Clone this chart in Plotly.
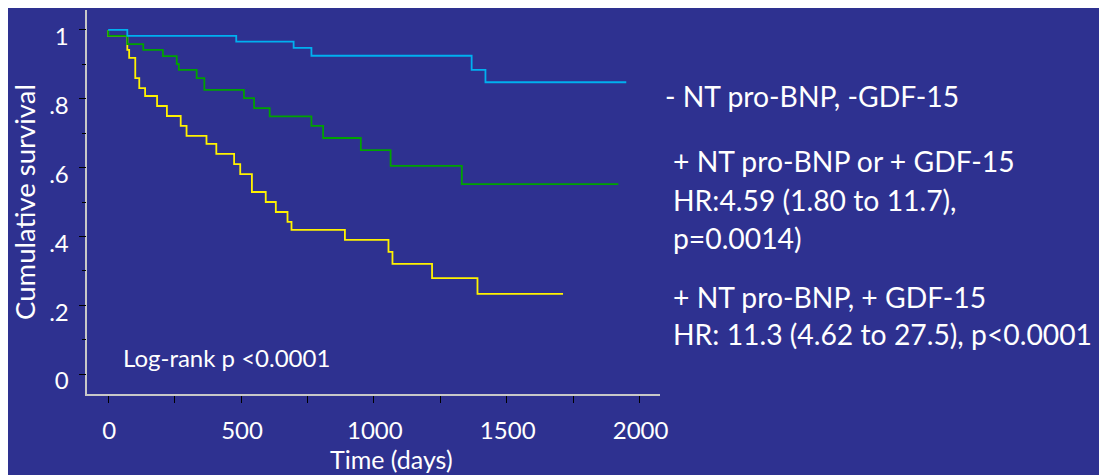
import plotly.graph_objects as go

# Data (days, cumulative survival)
blue_t = [0, 72, 482, 698, 765, 1368, 1420, 1950]
blue_s = [1.0, 0.983, 0.966, 0.948, 0.925, 0.884, 0.848, 0.848]

green_t = [0, 0, 72, 132, 206, 258, 266, 333, 362, 511, 549, 608, 765, 809, 951, 1063, 1331, 1920]
green_s = [1.0, 0.983, 0.959, 0.942, 0.924, 0.901, 0.884, 0.860, 0.826, 0.802, 0.773, 0.749,
           0.721, 0.686, 0.651, 0.605, 0.552, 0.552]

yellow_t = [0, 0, 72, 79, 102, 117, 139, 184, 221, 273, 295, 370, 407, 474, 497, 541, 593, 631,
            675, 690, 891, 1055, 1070, 1219, 1390, 1712]
yellow_s = [1.0, 0.983, 0.942, 0.919, 0.860, 0.831, 0.808, 0.779, 0.750, 0.721, 0.692, 0.669,
            0.640, 0.610, 0.581, 0.529, 0.500, 0.471, 0.442, 0.419, 0.390, 0.355, 0.320, 0.279,
            0.233, 0.233]

x_ticks = [0, 500, 1000, 1500, 2000]
y_ticks = [0, 0.2, 0.4, 0.6, 0.8, 1.0]
y_tick_text = ["0", ".2", ".4", ".6", ".8", "1"]

legend_lines = [
    ("- NT pro-BNP, -GDF-15", 668, 96),
    ("+ NT pro-BNP or + GDF-15", 676, 161),
    ("HR:4.59 (1.80 to 11.7),", 676, 200),
    ("p=0.0014)", 676, 238),
    ("+ NT pro-BNP, + GDF-15", 676, 297),
    ("HR: 11.3 (4.62 to 27.5), p<0.0001", 676, 334),
]

BG = "#2E3190"
FONT = "Lato"
OFF = 8  # page body margin
W, H = 1107 - OFF, 475 - OFF


def fx(px):
    return (px - OFF) / W


def fy(py):
    return 1 - (py - OFF) / H


fig = go.Figure()
for t, s, c in [(yellow_t, yellow_s, "#FFF200"), (green_t, green_s, "#00A300"), (blue_t, blue_s, "#00B0F0")]:
    fig.add_trace(go.Scatter(x=t, y=s, mode="lines", line=dict(color=c, width=1.8, shape="hv"),
                             showlegend=False, hoverinfo="skip"))

for txt, px, py in legend_lines:
    fig.add_annotation(text=txt, x=fx(px), y=fy(py), xref="paper", yref="paper",
                       xanchor="left", yanchor="middle", showarrow=False,
                       font=dict(family=FONT, size=28.3, color="white"))

fig.add_annotation(text="Log-rank p <0.0001", x=fx(122), y=fy(357), xref="paper", yref="paper",
                   xanchor="left", yanchor="middle", showarrow=False,
                   font=dict(family=FONT, size=24, color="white"))

fig.add_annotation(text="Time (days)", x=fx(395), y=0, xref="paper", yref="paper",
                   xanchor="center", yanchor="bottom", showarrow=False, borderpad=0,
                   font=dict(family=FONT, size=25, color="white"))

fig.update_layout(
    width=W, height=H,
    paper_bgcolor=BG, plot_bgcolor=BG,
    margin=dict(l=0, r=0, t=0, b=0),
    font=dict(family=FONT, color="white", size=24),
    xaxis=dict(domain=[fx(88), fx(665)], range=[-78.4, 2075.5], tickvals=x_ticks,
               ticks="outside", ticklen=7, tickcolor="black", tickwidth=1.2,
               showline=True, linecolor="#C8C8C8", linewidth=1.5, showgrid=False, zeroline=False,
               minor=dict(dtick=250, tick0=0, ticks="outside", ticklen=7, tickcolor="black", tickwidth=1.2),
               tickfont=dict(size=24), ticklabelstandoff=7, ticklabelshift=1),
    yaxis=dict(domain=[fy(394), fy(10)], range=[-0.058, 1.058], tickvals=y_ticks, ticktext=y_tick_text,
               ticks="outside", ticklen=7, tickcolor="black", tickwidth=1.2,
               showline=True, linecolor="#C8C8C8", linewidth=1.5, showgrid=False, zeroline=False,
               minor=dict(dtick=0.1, tick0=0, ticks="outside", ticklen=4, tickcolor="black", tickwidth=1.2),
               tickfont=dict(size=24), ticklabelstandoff=5, ticklabelshift=7,
               title=dict(text="Cumulative survival", font=dict(size=27.5), standoff=12)),
)

fig.write_html("out.html")
